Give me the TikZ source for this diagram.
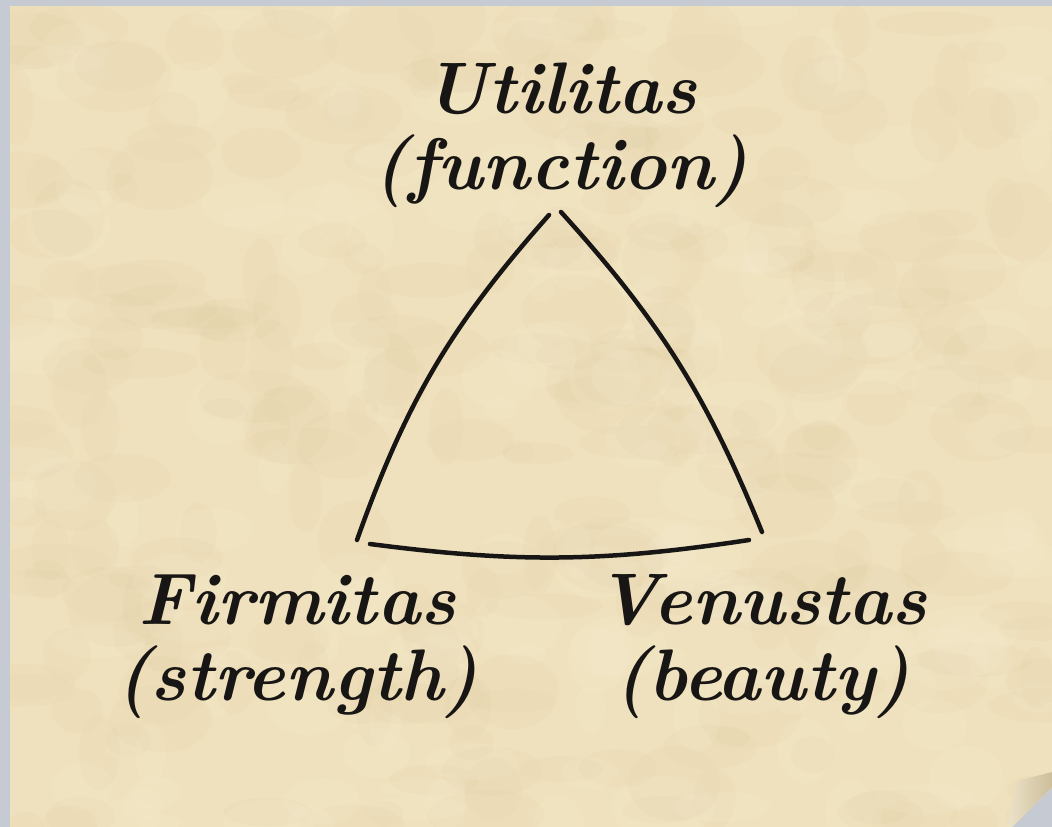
\documentclass[tikz,border=0pt]{standalone}
\usepackage{tikz}
\usetikzlibrary{positioning}
\definecolor{parch}{RGB}{239,225,189}
\definecolor{parchdark}{RGB}{214,192,146}
\definecolor{parchlight}{RGB}{248,240,214}
\definecolor{frame}{RGB}{198,203,211}
\definecolor{flap}{RGB}{205,190,155}
\definecolor{flaplight}{RGB}{236,226,200}
\definecolor{ink}{RGB}{24,22,20}

\begin{document}
\begin{tikzpicture}[x=1pt, y=-1pt,
  word/.style={font=\fontsize{73}{76}\selectfont\bfseries\itshape, text=ink,
    align=center, anchor=base, inner sep=0pt},
  arc/.style={draw=ink, line width=4.5pt, line cap=round}]
  \useasboundingbox (0,0) rectangle (1052,827);
  % Frame and paper
  \fill[frame] (0,0) rectangle (1052,827);
  \fill[parch] (10,6) -- (1052,6) -- (1052,787) -- (1012,827) -- (10,827) -- cycle;
  % Paper texture
  \begin{scope}
    \clip (10,6) -- (1052,6) -- (1052,787) -- (1012,827) -- (10,827) -- cycle;
    \pgfmathsetseed{42}
    \foreach \i in {1,...,260} {
      \pgfmathsetmacro{\px}{10+1042*rnd}
      \pgfmathsetmacro{\py}{6+821*rnd}
      \pgfmathsetmacro{\rx}{15+45*rnd}
      \pgfmathsetmacro{\ry}{10+30*rnd}
      \fill[parchdark, opacity=0.07] (\px,\py) ellipse (\rx pt and \ry pt);
    }
    \foreach \i in {1,...,180} {
      \pgfmathsetmacro{\px}{10+1042*rnd}
      \pgfmathsetmacro{\py}{6+821*rnd}
      \pgfmathsetmacro{\rx}{12+40*rnd}
      \pgfmathsetmacro{\ry}{8+26*rnd}
      \fill[parchlight, opacity=0.14] (\px,\py) ellipse (\rx pt and \ry pt);
    }
  \end{scope}
  % Curled corner
  \shade[left color=flaplight, right color=flap]
    (1007,827) -- (1017,781) -- (1052,772) -- (1052,787) -- (1012,827) -- cycle;

  % Labels (anchored on the baseline of the second line)
  \node[word] (utilitas) at (561,189) {Utilitas\\(function)};
  \node[word] (firmitas) at (297,700) {Firmitas\\(strength)};
  \node[word] (venustas) at (762,700) {Venustas\\(beauty)};

  % Corners of the triangle
  \coordinate (utl) at (549,215);
  \coordinate (utr) at (561,212);
  \coordinate (fit) at (357,540);
  \coordinate (fir) at (370,544);
  \coordinate (vet) at (762,532);
  \coordinate (vel) at (749,540);
  \draw[arc] (fit) to[bend left=11] (utl);
  \draw[arc] (utr) to[bend left=10] (vet);
  \draw[arc] (fir) to[bend right=8] (vel);
\end{tikzpicture}
\end{document}
